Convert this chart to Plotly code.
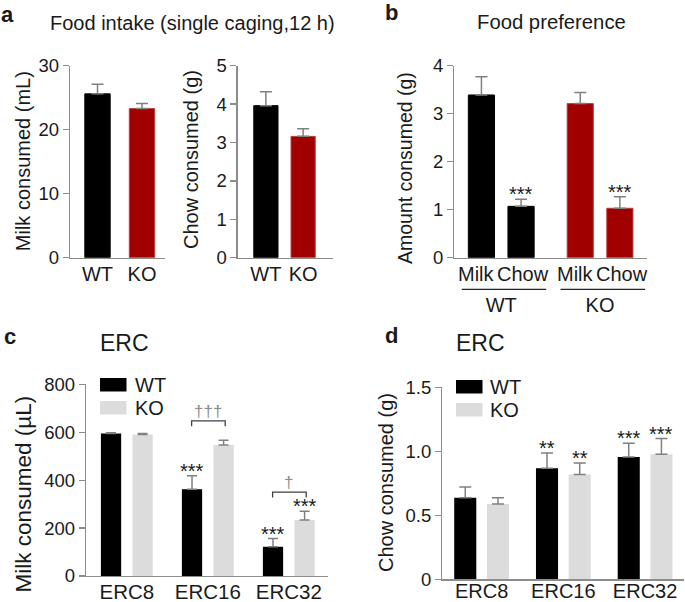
import plotly.graph_objects as go

W, H = 685, 602
FONT = "Liberation Sans, Arial, sans-serif"
BLACK = "#000000"
RED = "#a00000"
LIGHT = "#dcdcdc"
AXC = "#8c8c8c"
ERRC = "#808080"
TXT = "#1a1a1a"

# ---------------- data ----------------
genotypes = ["WT", "KO"]
a_milk = [25.6, 23.3]
a_milk_sem = [1.5, 0.8]
a_chow = [3.96, 3.16]
a_chow_sem = [0.36, 0.20]

foods = ["Milk", "Chow"]
b_milk = [3.39, 3.21]
b_milk_sem = [0.38, 0.23]
b_chow = [1.07, 1.03]
b_chow_sem = [0.15, 0.24]
b_chow_sig = ["***", "***"]

erc = ["ERC8", "ERC16", "ERC32"]
c_wt = [595, 362, 122]
c_wt_sem = [3, 56, 34]
c_ko = [591, 547, 234]
c_ko_sem = [4, 20, 36]
c_wt_sig = ["", "***", "***"]
c_ko_sig = ["", "", "***"]
c_pair_sig = ["", "†††", "†"]

d_wt = [0.638, 0.867, 0.956]
d_wt_sem = [0.083, 0.120, 0.107]
d_ko = [0.589, 0.818, 0.977]
d_ko_sem = [0.049, 0.091, 0.123]
d_wt_sig = ["", "**", "***"]
d_ko_sig = ["", "**", "***"]


def X(px):
    return px / W


def Y(py):
    return 1 - py / H


def err(sem, w=6):
    return dict(type="data", array=sem, arrayminus=[0] * len(sem), symmetric=False,
                color=ERRC, thickness=1.5, width=w)


fig = go.Figure()

# panel a
fig.add_trace(go.Bar(x=genotypes, y=a_milk, error_y=err(a_milk_sem), width=0.57,
                     marker=dict(color=[BLACK, RED], line=dict(color=[BLACK, "#b84040"], width=1)),
                     xaxis="x", yaxis="y", showlegend=False))
fig.add_trace(go.Bar(x=genotypes, y=a_chow, error_y=err(a_chow_sem), width=0.65,
                     marker=dict(color=[BLACK, RED], line=dict(color=[BLACK, "#b84040"], width=1)),
                     xaxis="x2", yaxis="y2", showlegend=False))

# panel b
B_OFF = {"Milk": -0.333, "Chow": 0.068}
B_W = 0.265
B_LBL_SHIFT = {"Milk": -5, "Chow": 2}
for food, vals, sem in [("Milk", b_milk, b_milk_sem), ("Chow", b_chow, b_chow_sem)]:
    fig.add_trace(go.Bar(x=genotypes, y=vals, error_y=err(sem), offset=B_OFF[food], width=B_W,
                         marker=dict(color=[BLACK, RED], line=dict(color=[BLACK, "#b84040"], width=1)),
                         xaxis="x3", yaxis="y3", showlegend=False, name=food))

# panel c
C_OFF = {"WT": -0.32, "KO": 0.07}
C_W = 0.25
fig.add_trace(go.Bar(x=erc, y=c_wt, error_y=err(c_wt_sem, 5), offset=C_OFF["WT"], width=C_W,
                     marker=dict(color=BLACK, line=dict(width=0)), xaxis="x4", yaxis="y4",
                     name="WT", showlegend=False))
fig.add_trace(go.Bar(x=erc, y=c_ko, error_y=err(c_ko_sem, 5), offset=C_OFF["KO"], width=C_W,
                     marker=dict(color=LIGHT, line=dict(width=0)), xaxis="x4", yaxis="y4",
                     name="KO", showlegend=False))

# panel d
D_OFF = {"WT": -0.335, "KO": 0.065}
D_W = 0.27
fig.add_trace(go.Bar(x=erc, y=d_wt, error_y=err(d_wt_sem), offset=D_OFF["WT"], width=D_W,
                     marker=dict(color=BLACK, line=dict(width=0)), xaxis="x5", yaxis="y5",
                     name="WT", showlegend=False))
fig.add_trace(go.Bar(x=erc, y=d_ko, error_y=err(d_ko_sem), offset=D_OFF["KO"], width=D_W,
                     marker=dict(color=LIGHT, line=dict(width=0)), xaxis="x5", yaxis="y5",
                     name="KO", showlegend=False))


def xax(dom, rng, anchor, size=20, standoff=-2, labels=True):
    return dict(domain=[X(dom[0]), X(dom[1])], range=rng, anchor=anchor, type="category",
                showline=True, linecolor=AXC, linewidth=1.3, ticks="", showgrid=False,
                zeroline=False, showticklabels=labels, ticklabelstandoff=standoff,
                tickfont=dict(family=FONT, size=size, color=TXT), automargin=False, fixedrange=True)


def yax(dom, rng, anchor, dtick=None, tickvals=None, ticktext=None, size=18.5):
    d = dict(domain=[Y(dom[1]), Y(dom[0])], range=rng, anchor=anchor, showline=True,
             linecolor=AXC, linewidth=1.3, ticks="outside", ticklen=6, tickcolor=AXC,
             tickwidth=1.3, showgrid=False, zeroline=False,
             tickfont=dict(family=FONT, size=size, color=TXT), automargin=False, fixedrange=True)
    if dtick is not None:
        d["dtick"] = dtick
        d["tick0"] = 0
    if tickvals is not None:
        d["tickmode"] = "array"
        d["tickvals"] = tickvals
        d["ticktext"] = ticktext
    return d


layout = dict(
    width=W, height=H, margin=dict(l=0, r=0, t=0, b=0),
    paper_bgcolor="white", plot_bgcolor="white", barmode="overlay",
    font=dict(family=FONT, color=TXT),
    xaxis=xax((70, 165), [-0.618, 1.517], "y"),
    yaxis=yax((65.7, 257.7), [0, 30], "x", dtick=10),
    xaxis2=xax((237.7, 333.3), [-0.757, 1.81], "y2"),
    yaxis2=yax((65.7, 257.7), [0, 5], "x2", dtick=1),
    xaxis3=xax((454.3, 646.7), [-0.475, 1.472], "y3", size=20, standoff=29),
    yaxis3=yax((65.7, 257.7), [0, 4], "x3", dtick=1),
    xaxis4=xax((86, 328), [-0.504, 2.484], "y4", size=20.5, standoff=-3),
    yaxis4=yax((384.3, 576), [0, 800], "x4", dtick=200),
    xaxis5=xax((442.3, 684), [-0.481, 2.476], "y5", size=20, standoff=-7),
    yaxis5=yax((387.3, 579.3), [0, 1.5], "x5", tickvals=[0, 0.5, 1.0, 1.5],
               ticktext=["0", "0.5", "1.0", "1.5"]),
)
fig.update_layout(**layout)

ann = []
shapes = []


def text(px, py, s, size=20, bold=False, xanchor="center", angle=0, color=TXT):
    ann.append(dict(x=X(px), y=Y(py), xref="paper", yref="paper", text=("<b>%s</b>" % s) if bold else s,
                    showarrow=False, xanchor=xanchor, yanchor="middle", textangle=angle,
                    font=dict(family=FONT, size=size, color=color)))


# panel letters & titles
text(7, 14, "a", 22, True)
text(392, 12, "b", 22, True)
text(10, 337, "c", 22, True)
text(392, 335, "d", 22, True)
text(192, 23, "Food intake (single caging,12 h)", 20)
text(551.5, 22, "Food preference", 20.3)
text(124, 343, "ERC", 23)
text(480.5, 343, "ERC", 23)

# y titles
text(22.5, 161.7, "Milk consumed (mL)", 20, angle=-90)
text(191, 160, "Chow consumed (g)", 20, angle=-90)
text(405, 168, "Amount consumed (g)", 19.5, angle=-90)
text(22.5, 494, "Milk consumed (µL)", 22.5, angle=-90)
text(386, 483, "Chow consumed (g)", 20, angle=-90)

# panel b food labels and underlines
for gi, g in enumerate(genotypes):
    for food in foods:
        ann.append(dict(x=gi + B_OFF[food] + B_W / 2, y=0, xref="x3", yref="y3", text=food,
                        showarrow=False, yanchor="top", yshift=-3, xshift=B_LBL_SHIFT[food],
                        font=dict(family=FONT, size=20, color=TXT)))
    shapes.append(dict(type="line", xref="x3", yref="paper", x0=gi - 0.4, x1=gi + 0.455,
                       y0=Y(289.3), y1=Y(289.3), line=dict(color="#222222", width=1.3)))
for gi, s in enumerate(b_chow_sig):
    ann.append(dict(x=gi + B_OFF["Chow"] + B_W / 2, y=b_chow[gi] + b_chow_sem[gi], xref="x3", yref="y3",
                    text=s, showarrow=False, yanchor="bottom", yshift=-8,
                    font=dict(family=FONT, size=20, color=TXT)))


def stars(xa, ya, vals, sems, sigs, off, w):
    for i, s in enumerate(sigs):
        if s:
            ann.append(dict(x=i + off + w / 2, y=vals[i] + sems[i], xref=xa, yref=ya, text=s,
                            showarrow=False, yanchor="bottom", yshift=-8,
                            font=dict(family=FONT, size=20, color=TXT)))


stars("x4", "y4", c_wt, c_wt_sem, c_wt_sig, C_OFF["WT"], C_W)
stars("x4", "y4", c_ko, c_ko_sem, c_ko_sig, C_OFF["KO"], C_W)
stars("x5", "y5", d_wt, d_wt_sem, d_wt_sig, D_OFF["WT"], D_W)
stars("x5", "y5", d_ko, d_ko_sem, d_ko_sig, D_OFF["KO"], D_W)

# panel c pairwise brackets
for i, s in enumerate(c_pair_sig):
    if not s:
        continue
    top = max(c_wt[i] + c_wt_sem[i], c_ko[i] + c_ko_sem[i]) + 80
    x0, x1 = i - 0.2, i + 0.215
    shapes.append(dict(type="path", xref="x4", yref="y4",
                       path="M %f,%f L %f,%f L %f,%f L %f,%f" % (x0, top - 22, x0, top, x1, top, x1, top - 22),
                       line=dict(color="#404040", width=1.3)))
    ann.append(dict(x=i, y=top, xref="x4", yref="y4", text=s, showarrow=False, yanchor="bottom",
                    yshift=-2, font=dict(family=FONT, size=17, color="#8c8c8c")))

# legends (c and d)
for (lx, ly, tx) in [(100, 378, 133), (456, 380, 488.3)]:
    for k, (nm, col) in enumerate([("WT", BLACK), ("KO", LIGHT)]):
        y0 = ly + k * 23
        shapes.append(dict(type="rect", xref="paper", yref="paper", x0=X(lx), x1=X(lx + 26.5),
                           y0=Y(y0), y1=Y(y0 + 13.5), fillcolor=col, line=dict(width=0)))
        text(tx, y0 + 7, nm, 20, xanchor="left")

fig.update_layout(annotations=ann, shapes=shapes)
fig.write_html("out.html", config={"displayModeBar": False, "staticPlot": True},
               post_script="document.body.style.margin='0px';document.body.style.overflow='hidden';")
